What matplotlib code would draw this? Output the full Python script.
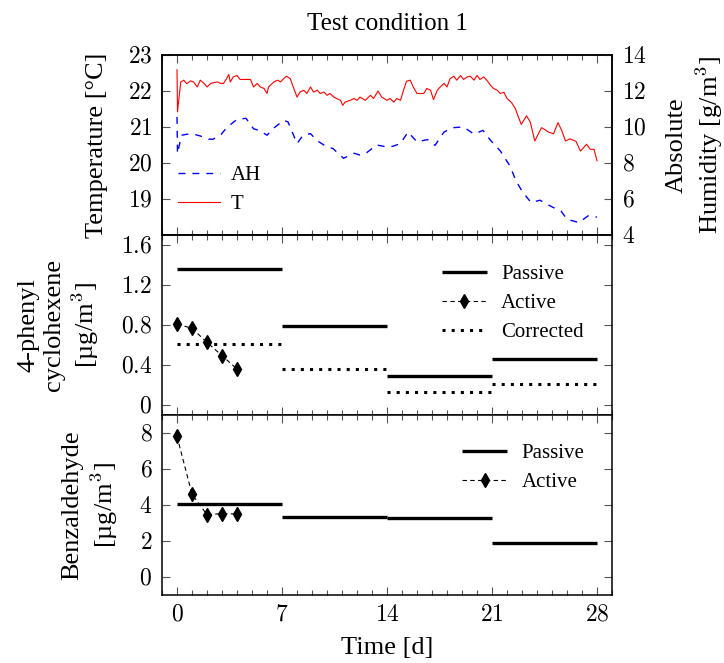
import matplotlib
matplotlib.use("Agg")
import matplotlib.pyplot as plt
from matplotlib.ticker import MultipleLocator, FuncFormatter

plt.rcParams["font.family"] = ["Liberation Serif", "DejaVu Serif"]
plt.rcParams["mathtext.fontset"] = "cm"
plt.rcParams["font.size"] = 19

# temperature log (days, degC)
t_days = [0.00, 0.03, 0.25, 0.45, 0.65, 0.90, 1.10, 1.35, 1.55, 1.80, 2.00, 2.25,
          2.45, 2.70, 2.90, 3.10, 3.30, 3.45, 3.55, 3.75, 4.00, 4.20, 4.65, 4.90,
          5.10, 5.35, 5.55, 5.80, 6.00, 6.10, 6.45, 6.70, 6.90, 7.10, 7.30, 7.55,
          7.75, 8.00, 8.20, 8.45, 8.65, 8.90, 9.10, 9.35, 9.55, 9.80, 10.00, 10.20,
          10.45, 10.65, 10.90, 11.05, 11.20, 11.55, 11.80, 12.00, 12.20, 12.55, 12.90, 13.10,
          13.40, 13.65, 14.00, 14.20, 14.45, 14.65, 14.90, 15.10, 15.30, 15.55, 15.75, 16.00,
          16.45, 16.65, 16.90, 17.10, 17.35, 17.55, 17.80, 18.00, 18.20, 18.45, 18.65, 18.90,
          19.10, 19.35, 19.55, 19.80, 20.00, 20.20, 20.45, 20.65, 20.90, 21.10, 21.35, 21.55,
          21.80, 22.00, 22.30, 22.55, 22.95, 23.30, 23.55, 23.85, 24.30, 24.55, 24.75, 25.10,
          25.40, 25.65, 25.90, 26.20, 26.60, 26.90, 27.30, 27.55, 27.80, 28.00]
t_vals = [22.59, 21.42, 22.25, 22.30, 22.20, 22.28, 22.25, 22.11, 22.30, 22.21, 22.11, 22.21,
          22.23, 22.25, 22.21, 22.21, 22.34, 22.46, 22.25, 22.39, 22.43, 22.32, 22.32, 22.32,
          22.11, 22.21, 22.11, 22.07, 21.93, 22.11, 22.25, 22.30, 22.25, 22.34, 22.41, 22.34,
          22.11, 21.83, 21.97, 22.02, 21.93, 22.11, 21.97, 22.02, 21.93, 21.97, 21.88, 21.93,
          21.83, 21.79, 21.74, 21.60, 21.69, 21.74, 21.79, 21.74, 21.83, 21.74, 21.88, 21.79,
          22.00, 21.83, 21.74, 21.79, 21.69, 21.79, 21.74, 22.02, 22.27, 22.30, 22.11, 21.93,
          21.93, 22.07, 22.02, 21.76, 22.02, 22.11, 22.21, 22.11, 22.34, 22.41, 22.30, 22.43,
          22.32, 22.39, 22.41, 22.30, 22.43, 22.32, 22.39, 22.30, 22.16, 22.07, 22.02, 21.93,
          21.96, 21.79, 21.68, 21.51, 21.07, 21.31, 21.14, 20.61, 20.98, 20.92, 20.86, 20.81,
          21.12, 20.90, 20.61, 20.67, 20.60, 20.33, 20.52, 20.38, 20.38, 20.06]

# absolute humidity log (days, g/m3)
ah_days = [0.00, 0.03, 0.30, 0.70, 1.10, 1.55, 2.10, 2.40, 2.90, 3.30, 4.00, 4.60,
           5.10, 5.50, 6.00, 6.40, 7.10, 7.40, 8.00, 8.40, 8.90, 9.30, 10.00, 10.40,
           11.10, 11.80, 12.20, 12.60, 13.30, 14.00, 14.40, 14.90, 15.40, 16.00, 16.70, 17.20,
           17.80, 18.40, 19.10, 19.80, 20.40, 20.90, 21.55, 22.20, 22.60, 23.00, 23.60, 24.20,
           25.00, 25.60, 26.00, 26.80, 27.40, 27.60, 28.00]
ah_vals = [10.56, 8.52, 9.54, 9.60, 9.60, 9.50, 9.32, 9.32, 9.54, 9.96, 10.42, 10.48,
           9.90, 9.80, 9.54, 9.90, 10.37, 10.28, 9.08, 9.54, 9.63, 9.26, 8.89, 8.80,
           8.26, 8.54, 8.44, 8.54, 9.00, 8.89, 8.93, 9.08, 9.72, 9.17, 9.30, 8.98,
           9.72, 9.96, 10.00, 9.60, 9.81, 9.26, 8.67, 7.83, 7.00, 6.44, 5.80, 5.93,
           5.56, 5.33, 4.87, 4.69, 5.06, 5.00, 5.00]

# sampling periods (days)
period_start = [0, 7, 14, 21]
period_end = [7, 14, 21, 28]
active_days = [0, 1, 2, 3, 4]

# 4-phenylcyclohexene (ug/m3)
pch_passive = [1.36, 0.79, 0.286, 0.456]
pch_corrected = [0.61, 0.356, 0.126, 0.206]
pch_active = [0.81, 0.766, 0.626, 0.493, 0.36]

# benzaldehyde (ug/m3)
bz_passive = [4.06, 3.31, 3.26, 1.87]
bz_active = [7.81, 4.59, 3.46, 3.52, 3.50]

fig = plt.figure(figsize=(7.24, 6.63), dpi=100)
left, width = 0.2238, 0.6215
h = 0.2715
ax1 = fig.add_axes([left, 0.1026 + 2 * h, width, h])
ax2 = fig.add_axes([left, 0.1026 + h, width, h], sharex=ax1)
ax3 = fig.add_axes([left, 0.1026, width, h], sharex=ax1)
ax1r = ax1.twinx()

math_fmt = FuncFormatter(lambda v, pos: f"${v:g}$")

for ax in (ax1, ax2, ax3, ax1r):
    for s in ax.spines.values():
        s.set_linewidth(1.1)
    ax.tick_params(which="both", direction="in", color="#555555", width=0.8,
                   labelsize=17, pad=7)
    ax.tick_params(which="major", length=6)
    ax.tick_params(which="minor", length=3.5)
    ax.xaxis.set_major_formatter(math_fmt)
    ax.yaxis.set_major_formatter(math_fmt)

for ax in (ax1, ax2, ax3):
    ax.xaxis.set_major_locator(MultipleLocator(7))
    ax.xaxis.set_minor_locator(MultipleLocator(1))
    ax.tick_params(which="both", top=True, bottom=True)
for ax in (ax2, ax3):
    ax.tick_params(which="both", left=True, right=True)
ax1.tick_params(labelbottom=False)
ax2.tick_params(labelbottom=False)
ax1.tick_params(axis="y", right=False)
ax1.set_xlim(-1, 29)

leg_kw = dict(loc="upper left", frameon=False, fontsize=15, handlelength=2.15,
              handletextpad=0.7, borderpad=0, borderaxespad=0, labelspacing=0.46)

# top: climate
l_ah, = ax1r.plot(ah_days, ah_vals, color="blue", lw=1.0, ls=(0, (5, 5)))
l_t, = ax1.plot(t_days, t_vals, color="red", lw=0.8)
ax1.set_ylim(18, 23)
ax1.set_yticks([19, 20, 21, 22, 23])
ax1r.set_ylim(4, 14)
ax1r.set_yticks([4, 6, 8, 10, 12, 14])
ax1.set_ylabel("Temperature [°C]", labelpad=14)
ax1r.set_ylabel("Absolute\nHumidity [g/m$^3$]", rotation=90, labelpad=14)
ax1.legend([l_ah, l_t], ["AH", "T"], bbox_to_anchor=(0.036, 0.387),
           **dict(leg_kw, handlelength=2.0, handletextpad=0.5))
ax1.set_title("Test condition 1", pad=18, fontsize=18)

# middle: 4-phenylcyclohexene
ax2.hlines(pch_passive, period_start, period_end, color="black", lw=2.4, label="Passive")
ax2.plot(active_days, pch_active, color="black", lw=0.8, ls=(0, (4, 3)),
         marker="d", ms=7.5, label="Active")
ax2.hlines(pch_corrected, period_start, period_end, color="black", lw=2.2,
           linestyles=(0, (1, 2)), label="Corrected")
ax2.set_ylim(-0.1, 1.7)
ax2.set_yticks([0, 0.4, 0.8, 1.2, 1.6])
ax2.set_ylabel("4-phenyl\ncyclohexene\n[µg/m$^3$]", labelpad=14)
ax2.legend(bbox_to_anchor=(0.622, 0.837), **leg_kw)

# bottom: benzaldehyde
ax3.hlines(bz_passive, period_start, period_end, color="black", lw=2.4, label="Passive")
ax3.plot(active_days, bz_active, color="black", lw=0.8, ls=(0, (4, 3)),
         marker="d", ms=7.5, label="Active")
ax3.set_ylim(-1, 9)
ax3.set_yticks([0, 2, 4, 6, 8])
ax3.set_ylabel("Benzaldehyde\n[µg/m$^3$]", labelpad=14)
ax3.set_xlabel("Time [d]", labelpad=8)
ax3.legend(bbox_to_anchor=(0.667, 0.842), **leg_kw)

fig.savefig("out.png", dpi=100)
